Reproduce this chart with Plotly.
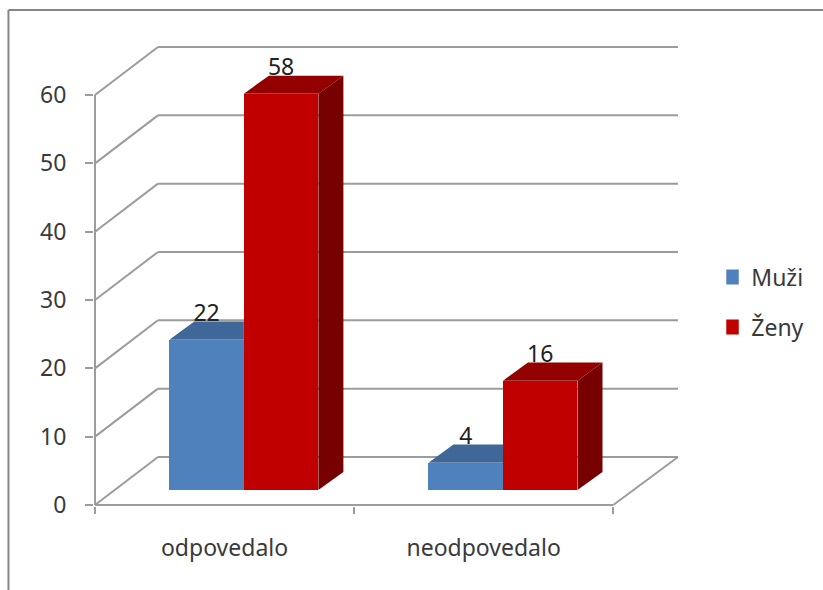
import plotly.graph_objects as go

# Survey responses by gender
categories = ["odpovedalo", "neodpovedalo"]
series_names = ["Muži", "Ženy"]
muzi_values = [22, 4]
zeny_values = [58, 16]
y_ticks = [0, 10, 20, 30, 40, 50, 60]

FRONT = {"Muži": "#4F81BD", "Ženy": "#C00000"}
TOP = {"Muži": "#3F6797", "Ženy": "#930000"}
SIDE_ZENY = "#770000"
GRID = "#9C9C9C"
TEXT = "#3A3A3A"
FONT = "Noto Sans, sans-serif"
FONT_SIZE = 23

# Pseudo-3D geometry, in axis units
PX_X, PX_Y = 259.0, 6.83          # pixels per category / per value unit
WALL_DX, WALL_DY = 0.243, 7.03    # offset of the back wall
WALL_END = 2.25                   # right end of the back wall
BAR_DX, BAR_DY = 0.0965, 2.64     # depth of a bar
BAR_SHIFT, BAR_BASE = 0.0745, 2.2 # how far the bars stand inside the floor
BAR_W = 0.2876
LABEL_GAP = 3.6
PAD_X, PAD_Y = 1 / PX_X, 1 / PX_Y

x_range = [-PAD_X, WALL_END + PAD_X]
y_range = [-PAD_Y, WALL_DY + 60 + PAD_Y]

W, H = 823, 590
LEFT = 94
RIGHT = LEFT + (x_range[1] - x_range[0]) * PX_X
TOP_PX = 46
BOTTOM = TOP_PX + (y_range[1] - y_range[0]) * PX_Y
centers = [i + 0.5 + BAR_SHIFT for i in range(len(categories))]


def line(x0, y0, x1, y1):
    return dict(type="line", xref="x", yref="y", x0=x0, y0=y0, x1=x1, y1=y1,
                layer="below", line=dict(color=GRID, width=2))


def paper_x(px):
    return (px - LEFT) / (RIGHT - LEFT)


def paper_y(px):
    return (BOTTOM - px) / (BOTTOM - TOP_PX)


shapes = []
for v in y_ticks:
    shapes.append(line(0, v, WALL_DX, v + WALL_DY))
    shapes.append(line(WALL_DX, v + WALL_DY, WALL_END, v + WALL_DY))
shapes.append(line(0, 0, 0, 60))
shapes.append(line(0, 0, 2, 0))
shapes.append(line(2, 0, WALL_END, WALL_DY))

# Outer chart frame (only its left and top edges are in view)
for x0, y0, x1, y1 in [(8.5, 10, 8.5, H), (8.5, 10, W, 10)]:
    shapes.append(dict(type="line", xref="paper", yref="paper",
                       x0=paper_x(x0), y0=paper_y(y0), x1=paper_x(x1), y1=paper_y(y1),
                       line=dict(color="#868686", width=2)))

fig = go.Figure()

# Front faces
for name, values in zip(series_names, [muzi_values, zeny_values]):
    fig.add_trace(go.Bar(x=centers, y=values, base=BAR_BASE, name=name, width=BAR_W,
                         offset=-BAR_W if name == "Muži" else 0,
                         marker=dict(color=FRONT[name], line=dict(width=0)),
                         showlegend=False, hoverinfo="skip"))

# Top and side faces; the blue top stops where the red bar starts
for c, m, z in zip(centers, muzi_values, zeny_values):
    ym, yz = m + BAR_BASE, z + BAR_BASE
    fig.add_trace(go.Scatter(
        x=[c - BAR_W, c, c, c - BAR_W + BAR_DX, c - BAR_W],
        y=[ym, ym, ym + BAR_DY, ym + BAR_DY, ym],
        mode="lines", fill="toself", fillcolor=TOP["Muži"], line=dict(width=0),
        showlegend=False, hoverinfo="skip"))
    fig.add_trace(go.Scatter(
        x=[c, c + BAR_W, c + BAR_W + BAR_DX, c + BAR_DX, c],
        y=[yz, yz, yz + BAR_DY, yz + BAR_DY, yz],
        mode="lines", fill="toself", fillcolor=TOP["Ženy"], line=dict(width=0),
        showlegend=False, hoverinfo="skip"))
    fig.add_trace(go.Scatter(
        x=[c + BAR_W, c + BAR_W + BAR_DX, c + BAR_W + BAR_DX, c + BAR_W, c + BAR_W],
        y=[BAR_BASE, BAR_BASE + BAR_DY, yz + BAR_DY, yz, BAR_BASE],
        mode="lines", fill="toself", fillcolor=SIDE_ZENY, line=dict(width=0),
        showlegend=False, hoverinfo="skip"))

# Value labels
for name, values, sign in [("Muži", muzi_values, -1), ("Ženy", zeny_values, 1)]:
    fig.add_trace(go.Scatter(
        x=[c + sign * BAR_W / 2 for c in centers],
        y=[v + BAR_BASE + LABEL_GAP for v in values],
        mode="text", text=[str(v) for v in values], textposition="middle center",
        textfont=dict(family=FONT, size=FONT_SIZE, color="#222222"),
        showlegend=False, hoverinfo="skip"))

# Square legend keys
for name in series_names:
    fig.add_trace(go.Scatter(x=[None], y=[None], mode="markers", name=name,
                             legendgroup=name,
                             marker=dict(symbol="square", size=15, color=FRONT[name])))

fig.update_layout(
    width=W, height=H, autosize=False,
    margin=dict(l=LEFT, r=W - RIGHT, t=TOP_PX, b=H - BOTTOM, autoexpand=False),
    paper_bgcolor="white", plot_bgcolor="white",
    font=dict(family=FONT, size=FONT_SIZE, color=TEXT),
    shapes=shapes,
    bargap=0,
    barmode="overlay",
    xaxis=dict(range=x_range, showgrid=False, zeroline=False, showline=False,
               tickmode="array", tickvals=[0.5, 1.5], ticktext=categories, ticks="",
               ticklabelstandoff=26,
               minor=dict(tickmode="array", tickvals=[0, 1, 2], ticks="outside",
                          ticklen=7, tickwidth=2, tickcolor=GRID, showgrid=False)),
    yaxis=dict(range=y_range, showgrid=False, zeroline=False, showline=False,
               tickmode="array", tickvals=y_ticks, ticks="outside",
               ticklen=8, tickwidth=2, tickcolor=GRID, ticklabelstandoff=14),
    legend=dict(x=paper_x(726), y=paper_y(255.5), xanchor="left", yanchor="top",
                tracegroupgap=17, indentation=-15, bgcolor="rgba(0,0,0,0)",
                font=dict(family=FONT, size=FONT_SIZE, color=TEXT)),
)

fig.write_html("out.html")
